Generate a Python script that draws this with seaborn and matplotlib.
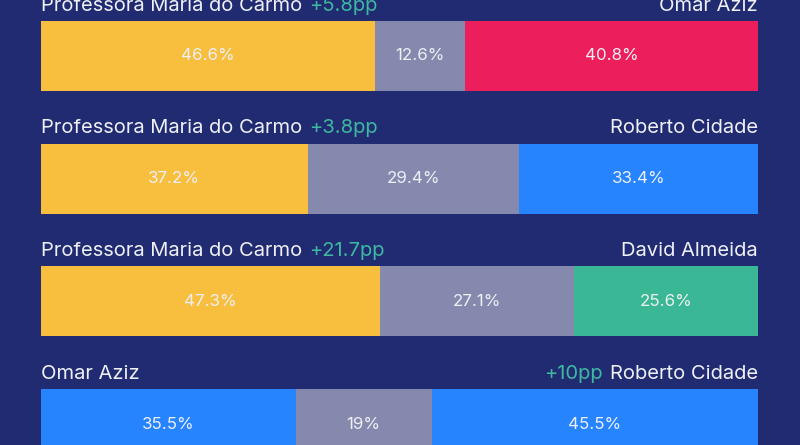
import matplotlib
matplotlib.use("Agg")
import matplotlib.pyplot as plt
import seaborn as sns
import pandas as pd

# ---- data ----
rows = ["r1", "r2", "r3", "r4"]
left_names = ["Professora Maria do Carmo", "Professora Maria do Carmo",
              "Professora Maria do Carmo", "Omar Aziz"]
right_names = ["Omar Aziz", "Roberto Cidade", "David Almeida", "Roberto Cidade"]
left_pct = [46.6, 37.2, 47.3, 35.5]
mid_pct = [12.6, 29.4, 27.1, 19]
right_pct = [40.8, 33.4, 25.6, 45.5]
leads = ["+5.8pp", "+3.8pp", "+21.7pp", "+10pp"]
lead_side = ["left", "left", "left", "right"]

# ---- styles ----
BG = "#212b72"
YEL = "#f8be3d"
GRAY = "#8589ad"
RED = "#ec1e5b"
BLUE = "#2684ff"
GREEN = "#3ab795"
TEAL = "#3fb8a0"
WHITE = "#eef0f6"
left_colors = [YEL, YEL, YEL, BLUE]
right_colors = [RED, BLUE, GREEN, BLUE]

sns.set_theme(style="white")
plt.rcParams["font.family"] = ["Inter", "DejaVu Sans"]

df = pd.DataFrame({
    "row": rows,
    "left": left_pct,
    "mid": mid_pct,
    "right": right_pct,
})
df["cum_mid"] = df["left"] + df["mid"]
df["cum_all"] = df["cum_mid"] + df["right"]

fig = plt.figure(figsize=(8, 4.45), dpi=100, facecolor=BG)
ax = fig.add_axes([41 / 800, 0, 717 / 800, 1])
ax.set_facecolor(BG)

W = 0.57
sns.barplot(data=df, x="cum_all", y="row", hue="row", palette=right_colors,
            orient="h", width=W, dodge=False, legend=False, ax=ax,
            saturation=1, edgecolor="none")
sns.barplot(data=df, x="cum_mid", y="row", hue="row", palette=[GRAY] * 4,
            orient="h", width=W, dodge=False, legend=False, ax=ax,
            saturation=1, edgecolor="none")
sns.barplot(data=df, x="left", y="row", hue="row", palette=left_colors,
            orient="h", width=W, dodge=False, legend=False, ax=ax,
            saturation=1, edgecolor="none")

ax.set_xlim(0, 100)
ax.set_ylim(3.17, -0.456)
ax.axis("off")


def fmt(v):
    return f"{v:g}%"


LBL = 14.5
for i in range(len(rows)):
    l, m, r = left_pct[i], mid_pct[i], right_pct[i]
    for xc, v in [(l / 2, l), (l + m / 2, m), (l + m + r / 2, r)]:
        ax.text(xc, i, fmt(v), ha="center", va="center", color=WHITE,
                fontsize=12.2)
    top = i - W / 2
    lt = ax.annotate(left_names[i], xy=(0, top), xytext=(0, 4.5),
                     textcoords="offset points", ha="left", va="bottom",
                     color=WHITE, fontsize=LBL)
    rt = ax.annotate(right_names[i], xy=(100, top), xytext=(0, 4.5),
                     textcoords="offset points", ha="right", va="bottom",
                     color=WHITE, fontsize=LBL)
    if lead_side[i] == "left":
        ax.annotate(leads[i], xy=(1, 0), xycoords=lt, xytext=(5, 0),
                    textcoords="offset points", ha="left", va="bottom",
                    color=TEAL, fontsize=LBL)
    else:
        ax.annotate(leads[i], xy=(0, 0), xycoords=rt, xytext=(-5, 0),
                    textcoords="offset points", ha="right", va="bottom",
                    color=TEAL, fontsize=LBL)

fig.savefig("out.png", dpi=100, facecolor=BG)
